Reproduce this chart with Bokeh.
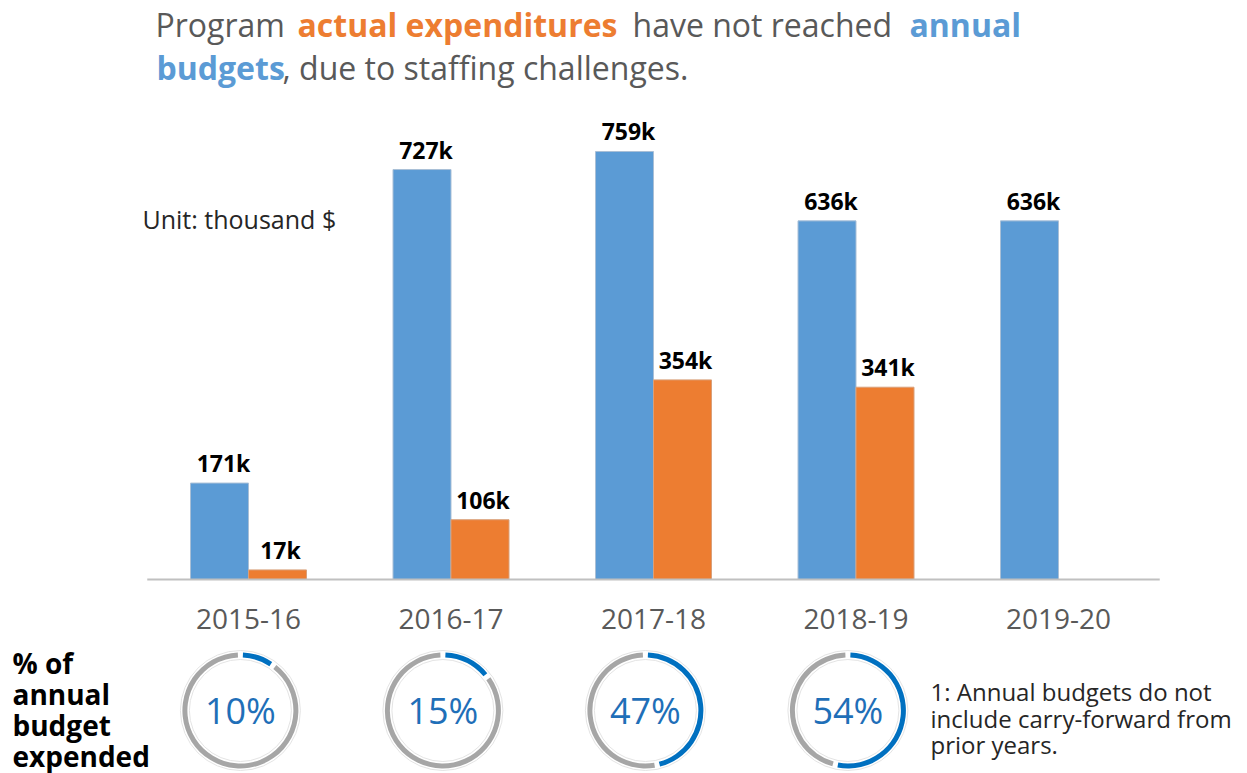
import numpy as np
from bokeh.plotting import figure
from bokeh.models import Range1d
from bokeh.core.properties import value
from bokeh.embed import file_html
from bokeh.resources import INLINE

# ---------------- data ----------------
years = ["2015-16", "2016-17", "2017-18", "2018-19", "2019-20"]
budget = [171, 727, 759, 636, 636]          # annual budgets (thousand $)
actual = [17, 106, 354, 341]                # actual expenditures (thousand $), no value for 2019-20
budget_labels = [f"{v}k" for v in budget]
actual_labels = [f"{v}k" for v in actual]
pct = [a / b for a, b in zip(actual, budget)]
pct_labels = [f"{round(v * 100)}%" for v in pct]

title1 = [("Program", "normal", "#595959"), ("actual expenditures", "bold", "#ed7d31"),
          ("have not reached", "normal", "#595959"), ("annual", "bold", "#5b9bd5")]
title1_x = [155, 297, 632, 909]
title2 = [("budgets", "bold", "#5b9bd5"), (", due to staffing challenges.", "normal", "#595959")]
title2_x = [156, 282]
left_lines = ["% of", "annual", "budget", "expended"]
note_lines = ["1: Annual budgets do not", "include carry-forward from", "prior years."]

# ---------------- layout helpers (canvas pixel -> data) ----------------
W, H = 1247, 773
K = 0.5639      # px per thousand $
Y0 = 579        # canvas y of value 0
X0, DX = 248, 202.5
BW = 58 / DX


def dy(py):
    return (Y0 - py) / K


def dxp(px):
    return (px - X0) / DX


FONT = value("Open Sans")

p = figure(width=W, height=H, x_range=Range1d(dxp(0), dxp(W)),
           y_range=Range1d(dy(H), dy(0)), output_backend="svg",
           toolbar_location=None, min_border=0,
           x_axis_location=None, y_axis_location=None)
p.grid.visible = False
p.outline_line_color = None
p.background_fill_color = "white"

xs = np.arange(len(years))
xa = xs[:len(actual)]

# bars
p.vbar(x=xs - BW / 2, top=budget, bottom=0, width=BW, fill_color="#5b9bd5",
       line_color="#a9bfd6", line_width=1)
p.vbar(x=xa + BW / 2, top=actual, bottom=0, width=BW, fill_color="#ed7d31",
       line_color="#d9a07a", line_width=1)

# axis line
p.segment(x0=[-0.5], x1=[len(years) - 0.5], y0=[0], y1=[0], line_color="#c0c0c0", line_width=2)

# value labels
p.text(x=xs - BW / 2, y=budget, text=budget_labels, x_offset=4, y_offset=-20,
       text_align="center", text_baseline="middle", text_font=FONT,
       text_font_style="bold", text_font_size="23px", text_color="black")
p.text(x=xa + BW / 2, y=actual, text=actual_labels, x_offset=3, y_offset=-20,
       text_align="center", text_baseline="middle", text_font=FONT,
       text_font_style="bold", text_font_size="23px", text_color="black")

# category labels
p.text(x=xs, y=[dy(618)] * len(years), text=years, text_align="center",
       text_baseline="middle", text_font=FONT, text_font_size="28px",
       text_color="#595959")

# unit label
p.text(x=[dxp(142)], y=[dy(218)], text=["Unit: thousand $"], text_align="left",
       text_baseline="middle", text_font=FONT, text_font_size="25px", text_color="#262626")

# title
for (t, st, c), px in zip(title1, title1_x):
    p.text(x=[dxp(px)], y=[dy(24)], text=[t], text_align="left", text_baseline="middle",
           text_font=FONT, text_font_style=st, text_font_size="32px", text_color=c)
for (t, st, c), px in zip(title2, title2_x):
    p.text(x=[dxp(px)], y=[dy(67)], text=[t], text_align="left", text_baseline="middle",
           text_font=FONT, text_font_style=st, text_font_size="32px", text_color=c)

# donuts
cx = xa - 0.04
cy = [dy(710)] * len(actual)
g = 0.045
f = np.array(pct)
p.circle(x=cx, y=cy, radius=60, radius_units="screen", fill_color=None,
         line_color="#e4e4e4", line_width=1)
p.circle(x=cx, y=cy, radius=51, radius_units="screen", fill_color=None,
         line_color="#e4e4e4", line_width=1)
p.annular_wedge(x=cx, y=cy, inner_radius=53, outer_radius=58,
                inner_radius_units="screen", outer_radius_units="screen",
                start_angle=np.pi / 2 + g, end_angle=np.pi / 2 - 2 * np.pi * f - g + 2 * np.pi,
                direction="anticlock", fill_color="#a6a6a6", line_color=None)
p.annular_wedge(x=cx, y=cy, inner_radius=53, outer_radius=58,
                inner_radius_units="screen", outer_radius_units="screen",
                start_angle=np.pi / 2 - 2 * np.pi * f + g, end_angle=np.pi / 2 - g,
                direction="anticlock", fill_color="#0070c0", line_color=None)
p.text(x=cx, y=cy, text=pct_labels, text_align="center", text_baseline="middle",
       text_font=FONT, text_font_size="36px", text_color="#1f6fb8")

# left label
for i, t in enumerate(left_lines):
    p.text(x=[dxp(12)], y=[dy(662 + 31 * i)], text=[t], text_align="left",
           text_baseline="middle", text_font=FONT, text_font_style="bold",
           text_font_size="28px", text_color="black")

# footnote
for i, t in enumerate(note_lines):
    p.text(x=[dxp(930)], y=[dy(691 + 26.5 * i)], text=[t], text_align="left",
           text_baseline="middle", text_font=FONT, text_font_size="24px",
           text_color="#262626")

open("out.html", "w").write(file_html(p, INLINE))
